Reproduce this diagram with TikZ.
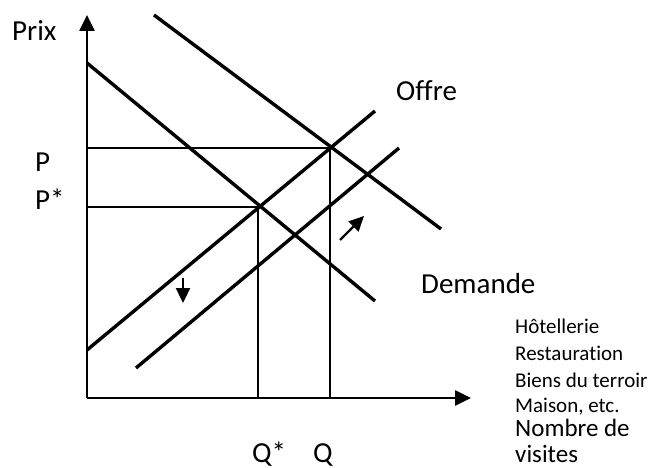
\documentclass[tikz,border=0pt]{standalone}
\usepackage{fontspec}
\setmainfont{Carlito}[Ligatures=NoCommon]
\usetikzlibrary{arrows.meta}
\begin{document}
\begin{tikzpicture}[x=1pt,y=-1pt,
  curve/.style={line width=3.4pt},
  guide/.style={line width=1.6pt},
  axis/.style={line width=2.6pt,-{Triangle[length=16pt,width=15pt]}},
  movearrow/.style={line width=2.4pt,-{Triangle[length=15pt,width=14pt]}},
  big/.style={inner sep=0pt,anchor=base west,font=\fontsize{29}{32}\selectfont},
  bigb/.style={inner sep=0pt,align=left,font=\fontsize{25}{26}\selectfont},
  small/.style={inner sep=0pt,anchor=base west,font=\fontsize{21}{24}\selectfont}]
\useasboundingbox (0,0) rectangle (654,468);
% axes
\coordinate (O) at (87,398);
\coordinate (Ytop) at (87,15);
\coordinate (Xend) at (471,398);
\draw[axis] (O) -- (Ytop);
\draw[axis] (O) -- (Xend);
% guides
\coordinate (E1) at (258,207);
\coordinate (E2) at (330,148);
\coordinate (P1y) at (87,207);
\coordinate (P2y) at (87,148);
\coordinate (Q1x) at (258,398);
\coordinate (Q2x) at (330,398);
\draw[guide] (P1y) -- (E1) -- (Q1x);
\draw[guide] (P2y) -- (E2) -- (Q2x);
% curves
\coordinate (D1a) at (87,63);
\coordinate (D1b) at (375,301);
\coordinate (D2a) at (154,15);
\coordinate (D2b) at (441,229);
\coordinate (S1a) at (87,350);
\coordinate (S1b) at (375,111);
\coordinate (S2a) at (136,368);
\coordinate (S2b) at (399,148);
\draw[curve] (D1a) -- (D1b);
\draw[curve] (D2a) -- (D2b);
\draw[curve] (S1a) -- (S1b);
\draw[curve] (S2a) -- (S2b);
% shift arrows
\coordinate (A1a) at (183,278);
\coordinate (A1b) at (183,303);
\coordinate (A2a) at (340,240);
\coordinate (A2b) at (364,216);
\draw[movearrow] (A1a) -- (A1b);
\draw[movearrow] (A2a) -- (A2b);
% labels
\node[big] (prix) at (12,41) {Prix};
\node[big] (p) at (35,172) {P};
\node[big] (pstar) at (35,210) {P*};
\node[big] (offre) at (396,101) {Offre};
\node[big] (demande) at (421,293) {Demande};
\node[small] (h) at (515,333) {Hôtellerie};
\node[small] (r) at (515,360) {Restauration};
\node[small] (b) at (515,387) {Biens du terroir};
\node[small] (m) at (515,412) {Maison, etc.};
\node[bigb,anchor=south west] (nb) at (515,463) {Nombre de\\visites};
\node[big] (qstar) at (252,462) {Q*};
\node[big] (q) at (313,462) {Q};
\end{tikzpicture}
\end{document}
